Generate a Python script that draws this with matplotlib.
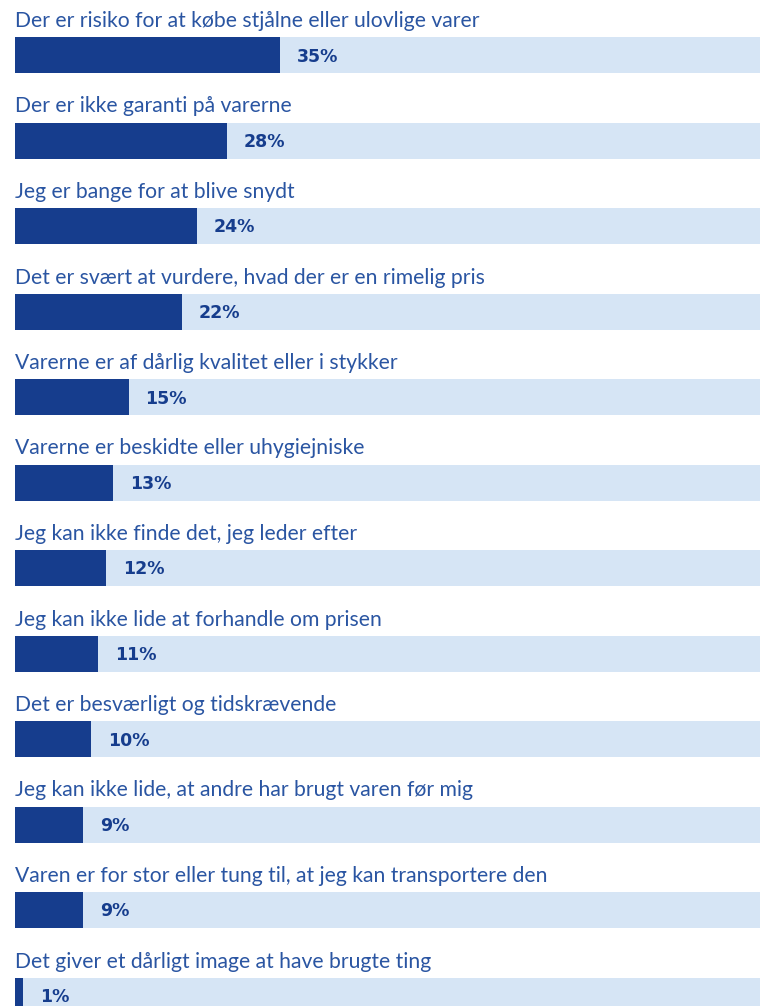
import matplotlib
matplotlib.use("Agg")
import matplotlib.pyplot as plt

categories = [
    "Der er risiko for at købe stjålne eller ulovlige varer",
    "Der er ikke garanti på varerne",
    "Jeg er bange for at blive snydt",
    "Det er svært at vurdere, hvad der er en rimelig pris",
    "Varerne er af dårlig kvalitet eller i stykker",
    "Varerne er beskidte eller uhygiejniske",
    "Jeg kan ikke finde det, jeg leder efter",
    "Jeg kan ikke lide at forhandle om prisen",
    "Det er besværligt og tidskrævende",
    "Jeg kan ikke lide, at andre har brugt varen før mig",
    "Varen er for stor eller tung til, at jeg kan transportere den",
    "Det giver et dårligt image at have brugte ting",
]
values = [35, 28, 24, 22, 15, 13, 12, 11, 10, 9, 9, 1]
value_labels = [f"{v}%" for v in values]

W, H = 760, 1006
fig = plt.figure(figsize=(W / 100, H / 100), dpi=100)
left_px = 15
ax = fig.add_axes([left_px / W, 0, (W - left_px) / W, 1])
px_per_pct = 7.57
pitch = 85.5
ax.set_xlim(0, (W - left_px) / px_per_pct)
ax.set_ylim((H - 55) / pitch, -55 / pitch)
ax.axis("off")

dark = "#163d8d"
light = "#d6e5f5"
text_col = "#2a55a2"
bh = 36 / pitch
ys = list(range(len(values)))

ax.barh(ys, [100] * len(values), height=bh, color=light, left=0)
ax.barh(ys, values, height=bh, color=dark, left=0)

for y, cat, v, lab in zip(ys, categories, values, value_labels):
    ax.text(0, y - 28 / pitch, cat, fontsize=15.2, color=text_col,
            family="Lato", fontweight="normal", va="baseline", ha="left")
    ax.text(v + 17 / px_per_pct, y + 1.5 / pitch, lab, fontsize=12.5,
            color=dark, family="DejaVu Sans", fontweight="bold",
            va="center", ha="left")

fig.savefig("out.png", dpi=100)
